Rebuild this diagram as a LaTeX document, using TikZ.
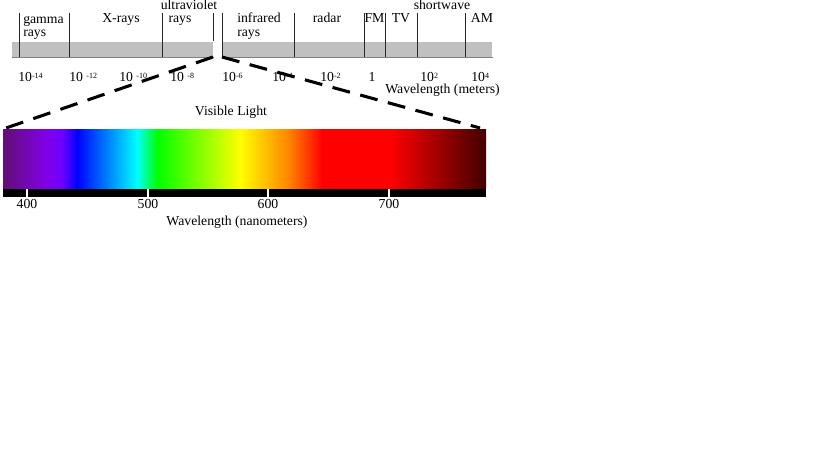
\documentclass[tikz,border=0pt]{standalone}
\usepackage{fontspec}
\setmainfont{Liberation Serif}
\begin{document}
\begin{tikzpicture}[x=0.75pt,y=-0.75pt,
  lbl/.style={inner sep=0pt,font=\fontsize{10.3}{12}\selectfont},
  band/.style={fill=bandgray,draw=none},
  divline/.style={draw=black!85,line width=0.7pt},
  zoomline/.style={draw=black,line width=2.3pt,dash pattern=on 13.5pt off 8pt},
  tickw/.style={draw=white,line width=1.3pt}]
\definecolor{bandgray}{RGB}{192,192,192}
\definecolor{s0}{RGB}{96,16,112}
\definecolor{s1}{RGB}{130,0,230}
\definecolor{s2}{RGB}{110,0,255}
\definecolor{s3}{RGB}{0,0,255}
\definecolor{s4}{RGB}{0,255,255}
\definecolor{s5}{RGB}{0,255,0}
\definecolor{s6}{RGB}{255,255,0}
\definecolor{s7}{RGB}{255,128,0}
\definecolor{s8}{RGB}{255,0,0}
\definecolor{s9}{RGB}{255,0,0}
\definecolor{s10}{RGB}{64,0,0}
\useasboundingbox[fill=white] (0,0) rectangle (819,460);

% electromagnetic spectrum band
\node[band,minimum width=201pt*0.75,minimum height=15pt*0.75,anchor=north west,inner sep=0pt] (bandL) at (12,42) {};
\node[band,minimum width=270pt*0.75,minimum height=15pt*0.75,anchor=north west,inner sep=0pt] (bandR) at (222,42) {};
\draw[gray,line width=0.6pt] (bandL.south west) -- (bandL.south east);
\draw[gray,line width=0.6pt] (bandR.south west) -- (bandR.south east);

% dividers
\foreach \x in {19,69,162,222,294,364,385,417,465}
  \draw[divline] (\x,13) -- (\x,57);
\draw[divline] (213,13) -- (213,41);

% region labels
\node[lbl,anchor=base west] (gamma) at (23,23.5) {gamma};
\node[lbl,anchor=base west] (gammarays) at (23,37) {rays};
\node[lbl,anchor=base] (xrays) at (121,23) {X-rays};
\node[lbl,anchor=base] (uv) at (189,10) {ultraviolet};
\node[lbl,anchor=base] (uvrays) at (180,23) {rays};
\node[lbl,anchor=base west] (ir) at (237,23) {infrared};
\node[lbl,anchor=base west] (irrays) at (237,37) {rays};
\node[lbl,anchor=base] (radar) at (327,23) {radar};
\node[lbl,anchor=base] (fm) at (374.5,23) {FM};
\node[lbl,anchor=base] (tv) at (401,23) {TV};
\node[lbl,anchor=base] (sw) at (442,9.5) {shortwave};
\node[lbl,anchor=base] (am) at (482,23) {AM};

% wavelength tick labels
\newcommand{\sx}[1]{\raisebox{0.6ex}{\fontsize{6}{6}\selectfont #1}}
\node[lbl,anchor=base west] (w14) at (18,82) {10\sx{-14}};
\node[lbl,anchor=base west] (w12) at (69,82) {10 \sx{-12}};
\node[lbl,anchor=base west] (w10) at (119,82) {10 \sx{-10}};
\node[lbl,anchor=base west] (w8) at (170,82) {10 \sx{-8}};
\node[lbl,anchor=base west] (w6) at (222,82) {10\sx{-6}};
\node[lbl,anchor=base west] (w4) at (272,82) {10\sx{-4}};
\node[lbl,anchor=base west] (w2) at (320,82) {10\sx{-2}};
\node[lbl,anchor=base] (w0) at (372,82) {1};
\node[lbl,anchor=base west] (wp2) at (420,82) {10\sx{2}};
\node[lbl,anchor=base west] (wp4) at (471,82) {10\sx{4}};
\node[lbl,anchor=base east] (wm) at (500,94) {Wavelength (meters)};

% visible spectrum
\begin{scope}
\clip (3,130) rectangle (486,189);
\shade[left color=s0,right color=s1] (2,129) rectangle (45.5,190);
\shade[left color=s1,right color=s2] (45,129) rectangle (62.5,190);
\shade[left color=s2,right color=s3] (62,129) rectangle (77.5,190);
\shade[left color=s3,right color=s4] (77,129) rectangle (137.5,190);
\shade[left color=s4,right color=s5] (137,129) rectangle (157.5,190);
\shade[left color=s5,right color=s6] (157,129) rectangle (240.5,190);
\shade[left color=s6,right color=s7] (240,129) rectangle (290.5,190);
\shade[left color=s7,right color=s8] (290,129) rectangle (322.5,190);
\shade[left color=s8,right color=s9] (322,129) rectangle (390.5,190);
\shade[left color=s9,right color=s10] (390,129) rectangle (487,190);
\end{scope}
\node[inner sep=0pt,minimum width=483pt*0.75,minimum height=59pt*0.75,anchor=north west] (vis) at (3,130) {};

% nanometre scale bar
\fill[black] (3,189) rectangle (486,197);
\foreach \x in {27,148,268,389}
  \draw[tickw] (\x,189) -- (\x,197);
\node[lbl,anchor=base] (n400) at (27,209) {400};
\node[lbl,anchor=base] (n500) at (148,209) {500};
\node[lbl,anchor=base] (n600) at (268,209) {600};
\node[lbl,anchor=base] (n700) at (389,209) {700};
\node[lbl,anchor=base] (wn) at (237,225) {Wavelength (nanometers)};
\node[lbl,anchor=base] (vl) at (231,116) {Visible Light};

% zoom lines
\coordinate (zL) at (213,57);
\coordinate (zR) at (222,57);
\coordinate (vL) at (6,128);
\coordinate (vR) at (480,128);
\draw[zoomline] (zL) -- (vL);
\draw[zoomline] (zR) -- (vR);
\end{tikzpicture}
\end{document}
